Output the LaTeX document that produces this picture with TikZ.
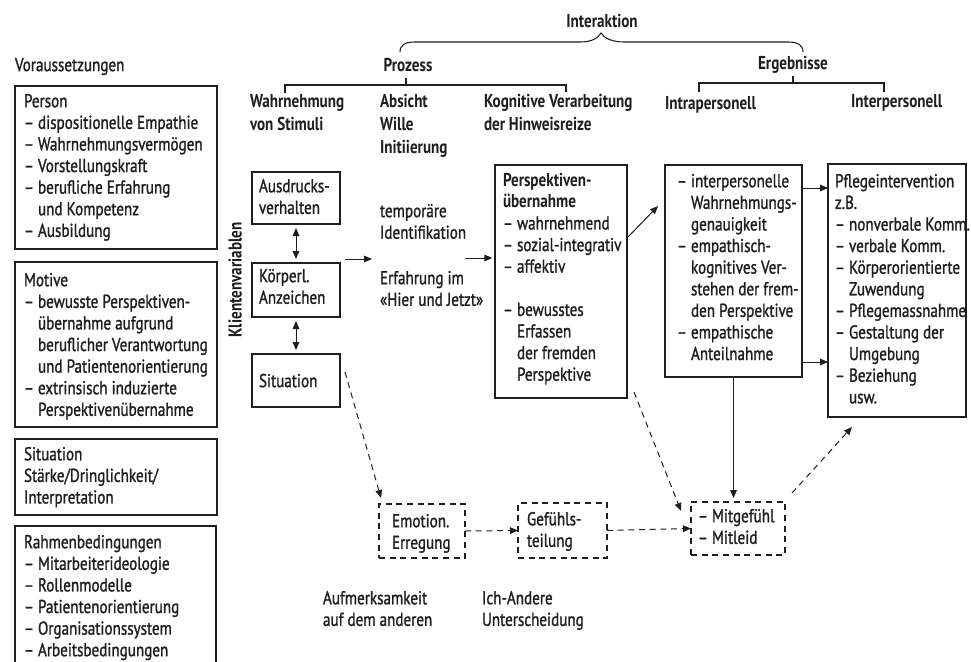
\documentclass[tikz,border=0pt]{standalone}
\usepackage{fontspec}
\setmainfont{PT Sans}[FakeStretch=0.81, UprightFeatures={FakeBold=1.2}]
\usetikzlibrary{arrows.meta,fit,calc}
\definecolor{ink}{HTML}{1E1E1E}
\newcommand{\myind}{\hphantom{– }}
\begin{document}
\begin{tikzpicture}[x=0.75pt,y=-0.75pt,
  every node/.style={inner sep=0pt, outer sep=0pt, text=ink},
  body/.style={anchor=north west, align=left, font=\fontsize{14}{16.2}\selectfont, execute at begin node=\strut},
  head/.style={anchor=north west, align=left, font=\bfseries\fontsize{14}{17.2}\selectfont, execute at begin node=\strut},
  box/.style={draw=ink, line width=0.9pt, fit={#1}},
  dbox/.style={draw=ink, line width=0.9pt, dash pattern=on 4.5pt off 3.5pt, fit={#1}},
  arr/.style={draw=ink, line width=0.75pt, -{Triangle[length=6pt,width=5pt]}},
  darr/.style={arr, dash pattern=on 4.5pt off 3.5pt},
  biarr/.style={draw=ink, line width=0.75pt, {Triangle[length=6pt,width=5pt]}-{Triangle[length=6pt,width=5pt]}},
  brk/.style={draw=ink, line width=0.8pt}
]
\useasboundingbox (0,0) rectangle (971,661);
\fill[white] (0,0) rectangle (971,661);

% ---------- headings ----------
\node[head, anchor=north] (interaktion) at (602,11) {Interaktion};
\draw[brk] (400,52) .. controls (400,45) and (405,42) .. (415,42) -- (580,42)
  .. controls (592,42) and (598,38) .. (601,33)
  .. controls (604,38) and (612,42) .. (624,42) -- (788,42)
  .. controls (798,42) and (803,45) .. (803,52);

\node[body] (vorauss) at (15,56) {Voraussetzungen};
\node[head, anchor=north] (prozess) at (408,55) {Prozess};
\node[head, anchor=north] (ergebnisse) at (793,53) {Ergebnisse};

\draw[brk] (285,93) -- (285,85) -- (566,85) -- (566,92);
\draw[brk] (406,85) -- (406,78);
\draw[brk] (699,92) -- (699,83) -- (884,83) -- (884,92);
\draw[brk] (793,83) -- (793,76);

\node[head] (hwahr) at (250,94) {Wahrnehmung\\von Stimuli};
\node[head] (habs) at (380,94) {Absicht\\Wille\\Initiierung};
\node[head] (hkog) at (484,94) {Kognitive Verarbeitung\\der Hinweisreize};
\node[head] (hintra) at (665,93) {Intrapersonell};
\node[head] (hinter) at (851,91) {Interpersonell};

% ---------- Voraussetzungen boxes ----------
\node[box={(15,86) (217,249)}] (person) {};
\node[body] at (24,94) {Person\\– dispositionelle Empathie\\– Wahrnehmungsvermögen\\– Vorstellungskraft\\– berufliche Erfahrung\\\myind und Kompetenz\\– Ausbildung};

\node[box={(15,262) (217,427)}] (motive) {};
\node[body] at (24,273) {Motive\\– bewusste Perspektiven-\\\myind übernahme aufgrund\\\myind beruflicher Verantwortung\\\myind und Patientenorientierung\\– extrinsisch induzierte\\\myind Perspektivenübernahme};

\node[box={(15,439) (217,515)}] (situation) {};
\node[body] at (24,447) {Situation\\Stärke/Dringlichkeit/\\Interpretation};

\node[box={(15,526) (216,664)}] (rahmen) {};
\node[body] at (24,535) {Rahmenbedingungen\\– Mitarbeiterideologie\\– Rollenmodelle\\– Patientenorientierung\\– Organisationssystem\\– Arbeitsbedingungen};

% ---------- Klientenvariablen ----------
\node[font=\bfseries\fontsize{14}{16}\selectfont, rotate=90] (klient) at (235,280) {Klientenvariablen};

\node[box={(252,172) (340,224)}] (ausd) {};
\node[body] at (259,179) {Ausdrucks-\\verhalten};
\node[box={(252,263) (340,317)}] (koerp) {};
\node[body] at (259,269) {Körperl.\\Anzeichen};
\node[box={(252,354) (340,407)}] (csit) {};
\node[body] at (259,372) {Situation};

\draw[biarr, shorten <=3pt, shorten >=3pt] (ausd) -- (koerp);
\draw[biarr, shorten <=3pt, shorten >=3pt] (koerp) -- (csit);

% ---------- process texts ----------
\node[body] (temp) at (380,204) {temporäre\\Identifikation};
\node[body] (erf) at (380,271) {Erfahrung im\\«Hier und Jetzt»};

\coordinate (a1s) at (345,259);
\coordinate (a1e) at (372,259);
\draw[arr] (a1s) -- (a1e);

% ---------- Perspektivenuebernahme ----------
\node[box={(495,165) (627,398)}] (persp) {};
\node[body] at (503,173) {\textbf{Perspektiven-}\\\textbf{übernahme}\\– wahrnehmend\\– sozial-integrativ\\– affektiv\\\mbox{}\\– bewusstes\\\myind Erfassen\\\myind der fremden\\\myind Perspektive};

\coordinate (a2s) at (465,258);
\draw[arr, shorten >=2pt] (a2s) -- (a2s -| persp.west);

% ---------- Intrapersonell ----------
\node[box={(665,165) (802,377)}] (intra) {};
\node[body] at (677,174) {– interpersonelle\\\myind Wahrnehmungs-\\\myind genauigkeit\\– empathisch-\\\myind kognitives Ver-\\\myind stehen der frem-\\\myind den Perspektive\\– empathische\\\myind Anteilnahme};

\coordinate (pst) at (628,237);
\coordinate (pen) at (658,206);
\draw[arr] (pst) -- (pen);

% ---------- Interpersonell ----------
\node[box={(828,164) (966,417)}] (pflege) {};
\node[body] at (835,174) {Pflegeintervention\\z.B.\\– nonverbale Komm.\\– verbale Komm.\\– Körperorientierte\\\myind Zuwendung\\– Pflegemassnahme\\– Gestaltung der\\\myind Umgebung\\– Beziehung\\\myind usw.};

\coordinate (y1) at (815,188);
\coordinate (y2) at (815,362);
\draw[arr] (intra.east |- y1) -- (pflege.west |- y1);
\draw[arr] (intra.east |- y2) -- (pflege.west |- y2);

% ---------- lower dashed boxes ----------
\node[dbox={(379,504) (465,558)}] (emo) {};
\node[body] at (392,514) {Emotion.\\Erregung};
\node[dbox={(518,503) (607,558)}] (gef) {};
\node[body] at (527,512) {Gefühls-\\teilung};
\node[dbox={(691,502) (785,555)}] (mit) {};
\node[body] at (698,509) {– Mitgefühl\\– Mitleid};

\draw[darr] (emo.east) -- (gef.west);
\draw[darr] (gef.east) -- (mit.west);

\coordinate (cs1) at (345,372);
\coordinate (cs2) at (381,498);
\draw[darr] (cs1) -- (cs2);

\coordinate (pm1) at (634,392);
\coordinate (pm2) at (681,511);
\draw[darr] (pm1) -- (pm2);

\draw[arr, shorten >=3pt] (intra.south) -- (intra.south |- mit.north);

\coordinate (mp1) at (792,493);
\coordinate (mp2) at (852,427);
\draw[darr] (mp1) -- (mp2);

% ---------- bottom labels ----------
\node[body] (aufm) at (323,591) {Aufmerksamkeit\\auf dem anderen};
\node[body] (ich) at (482,591) {Ich-Andere\\Unterscheidung};
\end{tikzpicture}
\end{document}
